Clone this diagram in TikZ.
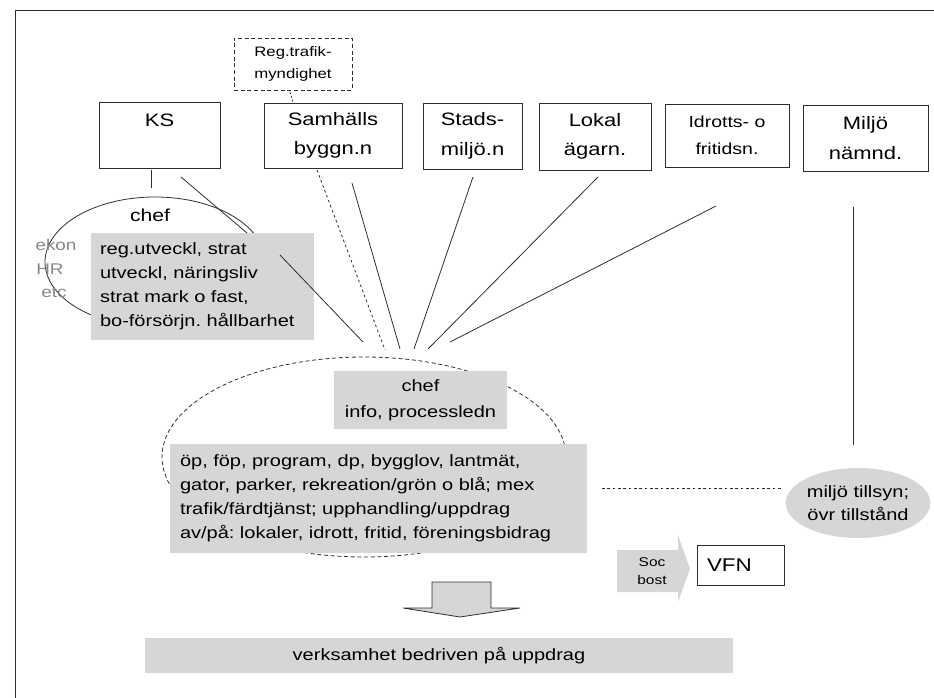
\documentclass[tikz,border=0pt]{standalone}
\usepackage{fontspec}
\setmainfont[FakeStretch=1.22]{Liberation Sans}
\usetikzlibrary{shapes.geometric}
\frenchspacing

\definecolor{linec}{RGB}{45,45,45}
\definecolor{gfill}{RGB}{214,214,214}
\definecolor{gtext}{RGB}{135,135,135}

\begin{document}
\begin{tikzpicture}[x=0.75pt,y=0.75pt,yscale=-1,xscale=1,
  ln/.style={draw=linec, line width=0.6pt},
  dashln/.style={ln, dash pattern=on 3pt off 2pt},
  nbox/.style={ln, inner sep=0pt, align=center, font=\fontsize{13.5}{22}\selectfont},
  gbox/.style={fill=gfill, inner ysep=0pt, align=left, font=\fontsize{12.3}{18}\selectfont},
  sidetxt/.style={text=gtext, inner sep=0pt, font=\fontsize{11.6}{14}\selectfont}
]
\useasboundingbox (0,0) rectangle (934,698);

%Straight Lines [frame]
\draw [ln] (15,698) -- (15,10) -- (934,10) ;

%Shape: Rectangle [boxes on top]
\node [nbox, dashln, minimum width=88.5pt, minimum height=39pt, font=\fontsize{10.3}{16}\selectfont, align=left] (regtrafik) at (293,64) {Reg.trafik-\\myndighet};
\node [nbox, minimum width=90.75pt, minimum height=49.5pt] (ks) at (159.5,135) {KS\\~};
\node [nbox, minimum width=103.5pt, minimum height=48.75pt] (samhbygg) at (333,135.5) {Samhälls\\byggn.n};
\node [nbox, minimum width=74.25pt, minimum height=49.5pt] (stadsmiljo) at (472.5,136) {Stads-\\miljö.n};
\node [nbox, minimum width=84pt, minimum height=50.25pt] (lokalag) at (595,136.5) {Lokal\\ägarn.};
\node [nbox, minimum width=93pt, minimum height=47.25pt, font=\fontsize{12}{20}\selectfont] (idrott) at (727,135.5) {Idrotts- o\\fritidsn.};
\node [nbox, minimum width=93.75pt, minimum height=49.5pt] (miljonamnd) at (865.5,138) {Miljö\\nämnd.};

%Shape: Ellipse [KS]
\draw [ln] (155,262) ellipse [x radius=110, y radius=65] ;
\node [font=\fontsize{13}{16}\selectfont, inner sep=0pt] (kschef) at (150,215) {chef};
\node [sidetxt] (ekon) at (56,245) {ekon};
\node [sidetxt] (hr) at (50,269) {HR};
\node [sidetxt] (etc) at (54,293) {etc};

%Shape: Ellipse [dashed]
\draw [dashln] (364,457) ellipse [x radius=202, y radius=100] ;

%Shape: Rectangle [grey boxes]
\node [gbox, text width=153.75pt, inner xsep=6.75pt, minimum height=80.25pt] (ksuppg) at (202.5,286.5) {reg.utveckl, strat\\utveckl, näringsliv\\strat mark o fast,\\bo-försörjn. hållbarhet};
\node [gbox, align=center, minimum width=129.75pt, minimum height=43.5pt, font=\fontsize{12.3}{19.5}\selectfont] (sbchef) at (420.5,400) {chef\\info, processledn};
\node [gbox, text width=297.75pt, inner xsep=7.5pt, minimum height=81.75pt] (sbuppg) at (378.5,498.5) {öp, föp, program, dp, bygglov, lantmät,\\gator, parker, rekreation/grön o blå; mex\\trafik/färdtjänst; upphandling/uppdrag\\av/på: lokaler, idrott, fritid, föreningsbidrag};
\node [gbox, align=center, minimum width=441pt, minimum height=26.25pt] (verks) at (439,655.5) {verksamhet bedriven på uppdrag};
\node [ellipse, fill=gfill, inner sep=0pt, minimum width=97.5pt, minimum height=52.5pt, align=center, font=\fontsize{12.3}{17}\selectfont] (tillsyn) at (858,503) {miljö tillsyn;\\övr tillstånd};

%Shape: Right Arrow [Soc bost]
\fill [gfill] (617,550) -- (678,550) -- (678,535) -- (690,569) -- (678,602) -- (678,592) -- (617,592) -- cycle ;
\node [inner sep=0pt, align=center, font=\fontsize{9.5}{13.5}\selectfont] (socbost) at (652,571) {Soc\\bost};
\node [nbox, text width=50.25pt, inner xsep=7.5pt, minimum height=30pt, align=left, font=\fontsize{13.8}{16}\selectfont] (vfn) at (740.5,565) {VFN};

%Shape: Down Arrow
\draw [ln, fill=gfill] (432,582) -- (491,582) -- (491,608) -- (520,608) -- (460,617) -- (403,608) -- (432,608) -- cycle ;

%Straight Lines [connectors]
\coordinate (regA) at (290,92) ;
\coordinate (regB) at (293,102) ;
\coordinate (ksA) at (151,170) ;
\coordinate (ksB) at (151,188) ;
\coordinate (ksC) at (181,177) ;
\coordinate (ksD) at (247,233) ;
\coordinate (fanA) at (280,255) ;
\coordinate (fanB) at (363,342) ;
\coordinate (samhA) at (317,170) ;
\coordinate (samhB) at (385,350) ;
\coordinate (samhC) at (352,183) ;
\coordinate (samhD) at (400,349) ;
\coordinate (stadsA) at (473,177) ;
\coordinate (stadsB) at (414,349) ;
\coordinate (lokalA) at (598,177) ;
\coordinate (lokalB) at (428,349) ;
\coordinate (idrA) at (716,206) ;
\coordinate (idrB) at (450,342) ;
\coordinate (miljoA) at (853,207) ;
\coordinate (miljoB) at (853,445) ;
\coordinate (horA) at (602,488) ;
\coordinate (horB) at (782,488) ;

\draw [dashln, dash pattern=on 1.5pt off 1.5pt] (regA) -- (regB) ;
\draw [ln] (ksA) -- (ksB) ;
\draw [ln] (ksC) -- (ksD) ;
\draw [ln] (fanA) -- (fanB) ;
\draw [dashln, dash pattern=on 2pt off 2pt] (samhA) -- (samhB) ;
\draw [ln] (samhC) -- (samhD) ;
\draw [ln] (stadsA) -- (stadsB) ;
\draw [ln] (lokalA) -- (lokalB) ;
\draw [ln] (idrA) -- (idrB) ;
\draw [ln] (miljoA) -- (miljoB) ;
\draw [dashln, dash pattern=on 2pt off 2pt] (horA) -- (horB) ;

\end{tikzpicture}
\end{document}
